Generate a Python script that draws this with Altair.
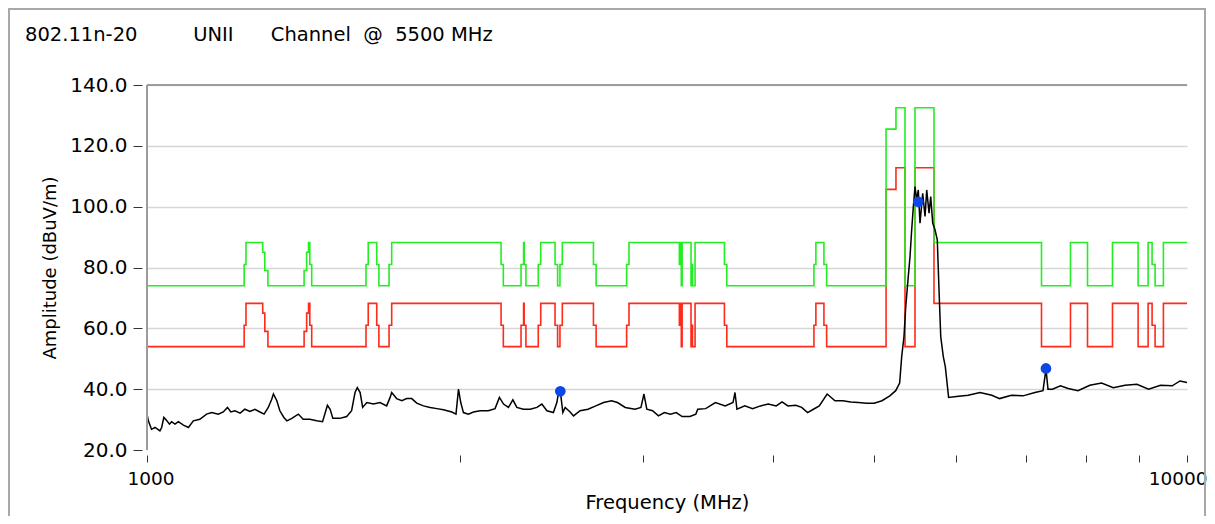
import altair as alt
import pandas as pd

# ---- data ----
limit_freq = [1000, 1240, 1245, 1292, 1298, 1307, 1416, 1424, 1430, 1434, 1440,
              1624, 1632, 1663, 1671, 1709, 1719, 2190, 2201, 2289, 2302, 2305,
              2314, 2378, 2391, 2468, 2482, 2495, 2508, 2687, 2703, 2892, 2907,
              3250, 3255, 3264, 3270, 3335, 3339, 3346, 3365, 3591, 3610, 4378,
              4397, 4476, 4503, 5136, 5250, 5356, 5476, 5711, 7246, 7726, 8023,
              8479, 8974, 9175, 9256, 9318, 9491, 10000]
avg_limit = [54, 61, 68.2, 65, 59, 54, 59, 65, 68.2, 61, 54,
             61, 68.2, 61, 54, 61, 68.2, 61, 54, 61, 68.2, 61,
             54, 61, 68.2, 61, 54, 61, 68.2, 61, 54, 61, 68.2,
             61, 68.2, 54, 68.2, 54, 61, 54, 68.2, 61, 54, 61,
             68.2, 61, 54, 105.7, 112.8, 54, 112.8, 68.2, 54, 68.2, 54,
             68.2, 54, 68.2, 61, 54, 68.2, 68.2]
peak_limit = [74, 81, 88.2, 85, 79, 74, 79, 85, 88.2, 81, 74,
              81, 88.2, 81, 74, 81, 88.2, 81, 74, 81, 88.2, 81,
              74, 81, 88.2, 81, 74, 81, 88.2, 81, 74, 81, 88.2,
              81, 88.2, 74, 88.2, 74, 81, 74, 88.2, 81, 74, 81,
              88.2, 81, 74, 125.5, 132.5, 74, 132.5, 88.2, 74, 88.2, 74,
              88.2, 74, 88.2, 81, 74, 88.2, 88.2]

trace_freq = [1000, 1003, 1010, 1018, 1029, 1033, 1038, 1045, 1051, 1056, 1064,
              1072, 1084, 1096, 1108, 1124, 1141, 1154, 1171, 1184, 1195, 1204,
              1215, 1229, 1242, 1256, 1270, 1284, 1296, 1308, 1318, 1323, 1333,
              1342, 1354, 1363, 1378, 1398, 1413, 1434, 1456, 1475, 1484, 1491,
              1500, 1509, 1533, 1556, 1573, 1585, 1593, 1603, 1612, 1627, 1651,
              1675, 1700, 1713, 1719, 1738, 1758, 1777, 1797, 1817, 1844, 1872,
              1900, 1928, 1964, 1982, 1993, 2003, 2015, 2037, 2060, 2091, 2129,
              2161, 2182, 2202, 2226, 2248, 2268, 2301, 2336, 2371, 2397, 2424,
              2459, 2478, 2487, 2500, 2511, 2524, 2552, 2571, 2609, 2655, 2701,
              2748, 2797, 2834, 2883, 2946, 2985, 3005, 3024, 3063, 3103, 3144,
              3186, 3228, 3270, 3327, 3371, 3385, 3445, 3520, 3597, 3660, 3676,
              3692, 3757, 3822, 3890, 3957, 4027, 4080, 4133, 4206, 4261, 4317,
              4373, 4430, 4508, 4587, 4667, 4749, 4832, 4917, 5002, 5090, 5179,
              5247, 5293, 5317, 5344, 5365, 5388, 5416, 5436, 5456, 5476, 5497,
              5516, 5537, 5570, 5599, 5620, 5649, 5670, 5695, 5724, 5753, 5775,
              5797, 5830, 5856, 5899, 6003, 6161, 6324, 6491, 6604, 6779, 6956,
              7141, 7270, 7318, 7351, 7424, 7556, 7687, 7856, 8064, 8277, 8494,
              8719, 8950, 9185, 9430, 9678, 9846, 10000]
trace_amp = [31.8, 29.6, 26.8, 27.4, 26.3, 27.4, 30.7, 29.6, 28.5, 29.3, 28.5,
             29.3, 28.2, 27.4, 29.6, 30.1, 31.8, 32.3, 31.8, 32.5, 34.0, 32.5,
             32.9, 32.1, 33.4, 32.7, 33.4, 32.5, 31.8, 34.0, 36.7, 38.4, 36.2,
             32.9, 30.7, 29.6, 30.4, 31.8, 30.1, 30.1, 29.6, 29.3, 32.3, 34.7,
             33.4, 30.4, 30.4, 31.0, 32.9, 38.9, 40.5, 38.9, 34.0, 35.6, 35.1,
             35.6, 34.5, 37.3, 38.9, 36.9, 36.2, 36.9, 36.9, 35.4, 34.5, 34.0,
             33.6, 33.2, 32.5, 31.8, 40.0, 35.6, 32.3, 31.8, 32.5, 32.9, 32.9,
             33.6, 37.3, 35.1, 34.0, 36.5, 34.0, 33.4, 33.4, 34.0, 35.1, 32.9,
             32.3, 35.6, 38.9, 37.8, 32.3, 34.0, 32.5, 31.2, 32.9, 33.4, 34.5,
             35.6, 36.2, 35.6, 34.0, 33.4, 34.0, 38.4, 33.4, 32.9, 31.2, 32.3,
             31.8, 32.3, 31.0, 31.0, 31.8, 33.4, 33.6, 35.6, 34.5, 35.6, 38.9,
             33.4, 34.5, 33.6, 34.5, 35.1, 34.5, 35.8, 34.5, 34.7, 34.0, 32.3,
             33.4, 34.5, 38.4, 36.2, 36.2, 35.8, 35.6, 35.4, 35.4, 36.2, 37.8,
             39.5, 42.0, 50.7, 57.3, 67.1, 74.8, 83.6, 92.4, 100.0, 106.6, 102.2,
             105.5, 94.6, 104.4, 96.8, 105.5, 97.9, 103.3, 94.6, 92.4, 89.1, 72.6,
             57.3, 50.7, 47.4, 37.3, 37.6, 38.0, 38.9, 38.0, 36.9, 38.0, 37.8,
             38.9, 39.5, 46.6, 40.0, 40.0, 41.1, 40.2, 39.5, 41.3, 42.0, 40.5,
             41.3, 41.6, 40.0, 41.3, 41.1, 42.7, 42.2]

marker_freq = [2497, 5516, 7318]
marker_amp = [39.3, 101.6, 46.8]

x_ticks = [1000, 2000, 3000, 4000, 5000, 6000, 7000, 8000, 9000, 10000]
y_ticks = [20, 40, 60, 80, 100, 120, 140]
frame_top = [140]
frame_left = [1000]

NB = "\u00a0"
header = ("802.11n-20" + NB * 9 + "UNII" + NB * 6 + "Channel" + NB * 2 + "@"
          + NB * 2 + "5500 MHz")

lim_df = pd.DataFrame({"f": limit_freq, "avg": avg_limit, "pk": peak_limit})
trace_df = pd.DataFrame({"f": trace_freq, "a": trace_amp})
mk_df = pd.DataFrame({"f": marker_freq, "a": marker_amp})
frame_df = pd.DataFrame({"top": frame_top, "left": frame_left})

FONT = "DejaVu Sans"

x_scale = alt.Scale(type="log", domain=[1000, 10000], nice=False)
y_scale = alt.Scale(domain=[20, 140], nice=False, zero=False)

x_axis = alt.Axis(values=x_ticks, format="d",
                  labelExpr="datum.value == 1000 || datum.value == 10000 ? datum.label : ''",
                  title="Frequency (MHz)", grid=False, domain=False,
                  tickSize=7, offset=5, tickColor="#333333",
                  labelPadding=7, labelFlush=True, labelFlushOffset=20,
                  labelOverlap=False,
                  labelFontSize=18.5, labelColor="#000000",
                  titleFontSize=19.5, titleFontWeight="normal", titleColor="#000000",
                  titlePadding=6)
y_axis = alt.Axis(values=y_ticks, format=".1f", title="Amplitude (dBuV/m)",
                  grid=True, gridColor="#d6d6d6", gridWidth=1.5,
                  gridOpacity=alt.condition("datum.value == 20", alt.value(0), alt.value(1)),
                  domain=False, tickSize=9, offset=5, tickColor="#333333",
                  labelPadding=6, labelFontSize=20, labelColor="#000000",
                  titleFontSize=18, titleFontWeight="normal", titleColor="#000000",
                  titlePadding=10)

base_lim = alt.Chart(lim_df)
red = base_lim.mark_line(interpolate="step-after", color="#ff2a1a", strokeWidth=1.6).encode(
    x=alt.X("f:Q", scale=x_scale, axis=x_axis),
    y=alt.Y("avg:Q", scale=y_scale, axis=y_axis),
)
green = base_lim.mark_line(interpolate="step-after", color="#22ee22", strokeWidth=1.6).encode(
    x=alt.X("f:Q", scale=x_scale),
    y=alt.Y("pk:Q", scale=y_scale),
)
trace = alt.Chart(trace_df).mark_line(color="#000000", strokeWidth=1.5).encode(
    x=alt.X("f:Q", scale=x_scale),
    y=alt.Y("a:Q", scale=y_scale),
)
markers = alt.Chart(mk_df).mark_point(filled=True, shape="circle", size=115,
                                      color="#0d47e6", opacity=1).encode(
    x=alt.X("f:Q", scale=x_scale),
    y=alt.Y("a:Q", scale=y_scale),
)
top_line = alt.Chart(frame_df).mark_rule(color="#9c9c9c", strokeWidth=2).encode(
    y=alt.Y("top:Q", scale=y_scale),
)
left_line = alt.Chart(frame_df).mark_rule(color="#9c9c9c", strokeWidth=2).encode(
    x=alt.X("left:Q", scale=x_scale),
)
outer = alt.Chart(frame_df).mark_rect(fillOpacity=0, stroke="#a8a8a8", strokeWidth=2).encode(
    x=alt.value(-138), x2=alt.value(1058), y=alt.value(-76), y2=alt.value(470),
)
head = alt.Chart(frame_df).mark_text(align="left", baseline="alphabetic", fontSize=19.5,
                                     font=FONT, color="#000000").encode(
    x=alt.value(-122), y=alt.value(-44), text=alt.value(header),
)

chart = alt.layer(outer, red, green, trace, markers, top_line, left_line, head).properties(
    width=1040, height=365,
    autosize=alt.AutoSizeParams(type="none"),
    padding={"left": 139, "top": 77, "right": 20, "bottom": 66},
).configure(
    font=FONT,
    background="#ffffff",
).configure_view(
    stroke=None,
)

chart.save("out.html", embed_options={"renderer": "svg", "actions": False})
